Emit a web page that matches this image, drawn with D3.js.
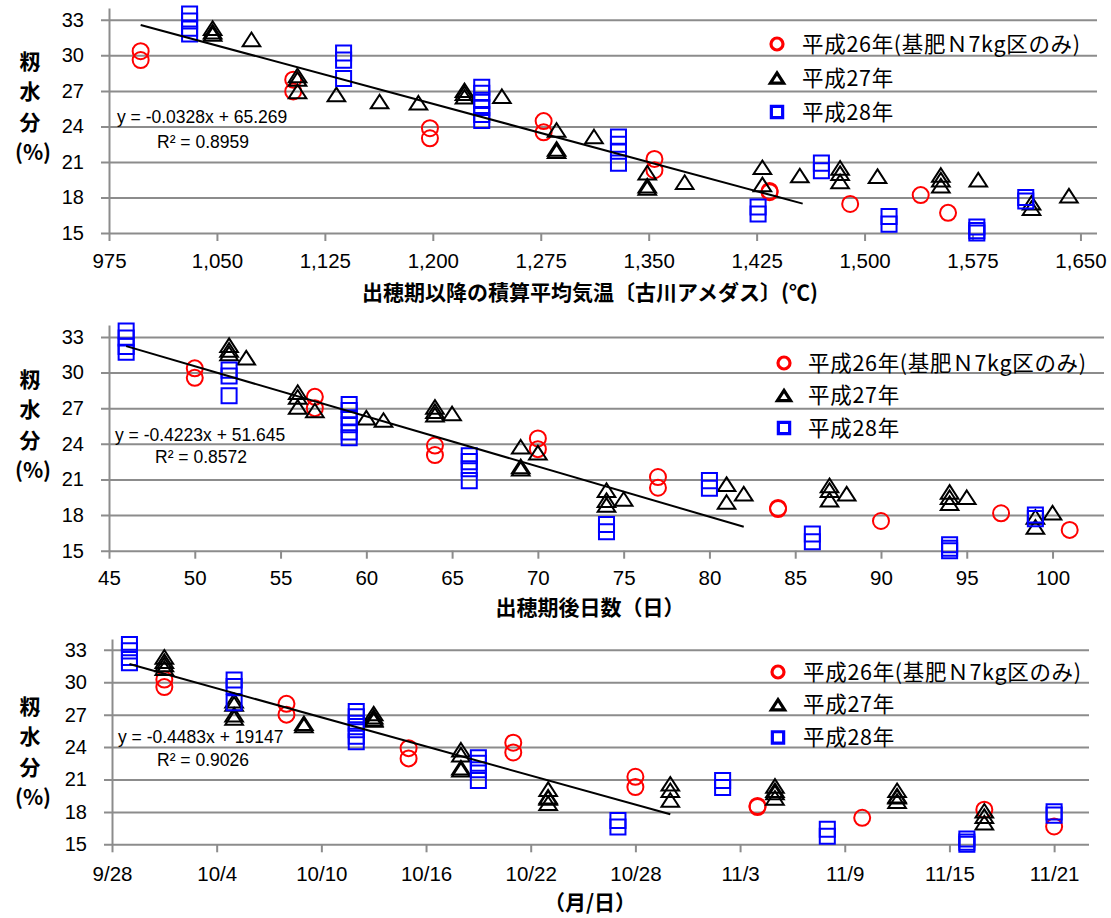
<!DOCTYPE html>
<html>
<head>
<meta charset="utf-8">
<title>籾水分</title>
<style>
body { margin: 0; background: #fff; }
text { font-family: 'Liberation Sans', Arial, sans-serif; fill: #000; }
.jp { font-family: 'Noto Sans CJK JP', sans-serif; }
</style>
<script src="https://d3js.org/d3.v7.min.js"></script>
</head>
<body>
<div id="container"></div>
<script>
// ******* Data *******
const yTicks = [15, 18, 21, 24, 27, 30, 33];
const legendLabels = ["平成26年(基肥Ｎ7kg区のみ)", "平成27年", "平成28年"];
const yTitleChars = ["籾", "水", "分", "(%)"];
const xTitles = ["出穂期以降の積算平均気温〔古川アメダス〕(℃)", "出穂期後日数（日）", "（月/日）"];

// panel 1: accumulated temperature
const xTicks1 = [975, 1050, 1125, 1200, 1275, 1350, 1425, 1500, 1575, 1650];
const temp26 = [[997,30.35],[997,29.6],[1103,27.95],[1103,26.95],[1198,23.85],[1198,23.0],[1277,24.45],[1277,23.5],
  [1354,21.25],[1354,20.3],[1434,18.55],[1434,18.45],[1490,17.45],[1539,18.2],[1558,16.7]];
const temp27 = [[1047,32.3],[1047,32.0],[1047,31.8],[1074,31.35],[1106,28.3],[1106,28.0],[1106,26.95],[1133,26.7],
  [1163,26.1],[1190,26.0],[1222,27.05],[1222,26.8],[1222,26.5],[1248,26.55],[1286,23.7],[1286,22.1],[1286,21.9],
  [1312,23.15],[1349,20.1],[1349,19.0],[1349,18.8],[1375,19.3],[1429,20.55],[1429,19.1],[1455,19.85],[1483,20.5],
  [1483,20.05],[1483,19.35],[1509,19.8],[1553,19.9],[1553,19.5],[1553,19.0],[1579,19.5],[1616,17.55],[1616,17.1],[1642,18.15]];
const temp28 = [[1031,33.5],[1031,32.9],[1031,32.3],[1031,31.8],[1138,30.2],[1138,29.6],[1138,28.05],[1234,27.3],
  [1234,26.8],[1234,26.2],[1234,25.6],[1234,25.0],[1234,24.5],[1329,23.1],[1329,22.5],[1329,21.9],[1329,20.9],
  [1426,17.2],[1426,16.6],[1470,20.9],[1470,20.25],[1517,16.4],[1517,15.75],[1578,15.5],[1578,15.2],[1578,15.0],
  [1612,18.0],[1612,17.7]];
const trendTemp = { from: 997, to: 1457, slope: -0.0328, intercept: 65.269 };

// panel 2: days after heading
const xTicks2 = [45, 50, 55, 60, 65, 70, 75, 80, 85, 90, 95, 100];
const days26 = [[50,30.35],[50,29.55],[57,27.95],[57,27.0],[64,23.85],[64,23.05],[70,24.45],[70,23.55],[77,21.2],
  [77,20.3],[84,18.6],[84,18.5],[90,17.5],[97,18.15],[101,16.75]];
const days27 = [[52,32.3],[52,31.9],[52,31.6],[53,31.25],[56,28.35],[56,27.95],[56,27.1],[57,26.8],[60,26.2],[61,26.0],
  [64,27.1],[64,26.75],[64,26.45],[65,26.55],[69,23.75],[69,22.1],[69,21.9],[70,23.25],[74,20.1],[74,19.25],[74,18.85],
  [75,19.35],[81,20.6],[81,19.1],[82,19.8],[87,20.5],[87,20.1],[87,19.3],[88,19.8],[94,19.95],[94,19.5],[94,19.0],
  [95,19.5],[99,17.85],[99,17.0],[100,18.2]];
const days28 = [[46,33.5],[46,32.9],[46,32.2],[46,31.7],[52,30.2],[52,29.7],[52,28.05],[59,27.3],[59,26.8],[59,26.2],
  [59,25.6],[59,25.0],[59,24.5],[66,23.0],[66,22.5],[66,21.9],[66,20.9],[74,17.2],[74,16.6],[80,20.9],[80,20.25],
  [86,16.4],[86,15.75],[94,15.5],[94,15.2],[94,15.0],[99,18.0],[99,17.7]];
const trendDays = { from: 46, to: 82, slope: -0.4223, intercept: 51.645 };

// panel 3: sampling date
const xTicks3 = ["9/28", "10/4", "10/10", "10/16", "10/22", "10/28", "11/3", "11/9", "11/15", "11/21"];
const date26 = [["10/1",30.25],["10/1",29.55],["10/8",28.0],["10/8",27.0],["10/15",23.9],["10/15",22.95],["10/21",24.4],
  ["10/21",23.5],["10/28",21.25],["10/28",20.3],["11/4",18.55],["11/4",18.45],["11/10",17.45],["11/17",18.2],["11/21",16.65]];
const date27 = [["10/1",32.35],["10/1",31.95],["10/1",31.65],["10/1",31.3],["10/5",28.3],["10/5",28.0],["10/5",27.0],
  ["10/5",26.7],["10/9",26.2],["10/9",26.0],["10/13",27.1],["10/13",26.8],["10/13",26.5],["10/13",26.6],["10/18",23.75],
  ["10/18",23.3],["10/18",22.1],["10/18",21.9],["10/23",20.1],["10/23",19.4],["10/23",19.3],["10/23",18.8],["10/30",20.6],
  ["10/30",20.0],["10/30",19.1],["11/5",20.4],["11/5",20.0],["11/5",19.8],["11/5",19.3],["11/12",20.0],["11/12",19.5],
  ["11/12",19.4],["11/12",19.0],["11/17",18.1],["11/17",17.6],["11/17",17.0]];
const date28 = [["9/29",33.5],["9/29",32.9],["9/29",32.3],["9/29",31.8],["10/5",30.2],["10/5",29.6],["10/5",28.1],
  ["10/12",27.3],["10/12",26.8],["10/12",26.2],["10/12",25.6],["10/12",25.0],["10/12",24.5],["10/19",23.0],["10/19",22.5],
  ["10/19",21.9],["10/19",20.9],["10/27",17.2],["10/27",16.6],["11/2",20.9],["11/2",20.25],["11/8",16.4],["11/8",15.75],
  ["11/16",15.5],["11/16",15.2],["11/16",15.0],["11/21",18.0],["11/21",17.7]];
const trendDate = { from: "9/29", to: "10/30", start: 31.68, slopePerDay: -0.4483 };

const equations = [["y = -0.0328x + 65.269", "R² = 0.8959"],
                   ["y = -0.4223x + 51.645", "R² = 0.8572"],
                   ["y = -0.4483x + 19147", "R² = 0.9026"]];

// ******* Helpers *******
const parseMD = s => d3.timeParse("%Y/%m/%d")("2016/" + s);
const dayMs = 864e5;
const gridColor = "#8c8c8c";
const colors = ["#ff0000", "#000000", "#0000ff"];
const shapes = ["circle", "triangle", "square"];

function trendPoints(t) {
  return [[t.from, t.intercept + t.slope * t.from], [t.to, t.intercept + t.slope * t.to]];
}
const d0 = parseMD(trendDate.from), d1 = parseMD(trendDate.to);
const trend3 = [[d0, trendDate.start], [d1, trendDate.start + trendDate.slopePerDay * (d1 - d0) / dayMs]];

// ******* Panels (layout) *******
const panels = [
  { top: 8, bottom: 233, left: 109, right: 1097,
    x: d3.scaleLinear().domain([975, 1661.5]), ticks: xTicks1, fmt: d3.format(","),
    series: [temp26, temp27, temp28], trend: trendPoints(trendTemp), eq: equations[0],
    eqPos: [117, 117, 157, 142], legend: [777, 44, 34, 802], yTitle: 61, xTitleY: 292, tickY: 261 },
  { top: 325, bottom: 550.7, left: 109, right: 1104,
    x: d3.scaleLinear().domain([45, 103]), ticks: xTicks2, fmt: d3.format("d"),
    series: [days26, days27, days28], trend: trendPoints(trendDays), eq: equations[1],
    eqPos: [115, 435, 155, 457], legend: [784, 363, 32.5, 808], yTitle: 379, xTitleY: 607, tickY: 578 },
  { top: 639, bottom: 844.3, left: 112, right: 1089,
    x: d3.scaleTime().domain([parseMD("9/28"), parseMD("11/23")]), ticks: xTicks3.map(parseMD),
    fmt: d3.timeFormat("%-m/%-d"), parse: true,
    series: [date26, date27, date28], trend: trend3, eq: equations[2],
    eqPos: [118, 737, 157, 760], legend: [778, 672, 32.7, 803], yTitle: 706, xTitleY: 902, tickY: 874 }
];

// ******* Create SVG *******
const svg = d3.select("#container").append("svg")
  .attr("width", 1111)
  .attr("height", 918);

function marker(sel, shape, color, size, sw) {
  if (shape === "circle") {
    sel.append("circle").attr("r", size * 0.5).attr("fill", "none")
      .attr("stroke", color).attr("stroke-width", sw);
  } else if (shape === "triangle") {
    const h = size * 0.85, w = size * 0.55;
    sel.append("path").attr("d", `M0,${-h / 2}L${w},${h / 2}L${-w},${h / 2}Z`)
      .attr("fill", "none").attr("stroke", color).attr("stroke-width", sw).attr("stroke-linejoin", "miter");
  } else {
    const s = size * 0.47;
    sel.append("path").attr("d", `M${-s},${-s}H${s}V${s}H${-s}Z`)
      .attr("fill", "none").attr("stroke", color).attr("stroke-width", sw);
  }
}

panels.forEach((p, pi) => {
  const g = svg.append("g");
  const x = p.x.range([p.left, p.right]);
  const y = d3.scaleLinear().domain([15, 34]).range([p.bottom, p.top]);
  const px = d => x(p.parse ? parseMD(d[0]) : d[0]);

  // gridlines (also the x axis line at 15)
  g.append("g")
    .attr("transform", `translate(${p.left},0)`)
    .call(d3.axisLeft(y).tickValues(yTicks).tickSize(-(p.right - p.left)).tickFormat(""))
    .call(s => s.select(".domain").remove())
    .selectAll("line").attr("x1", -8).attr("stroke", gridColor).attr("stroke-width", 2);

  // y axis + labels
  const ya = g.append("g")
    .attr("transform", `translate(${p.left},0)`)
    .call(d3.axisLeft(y).tickValues(yTicks).tickSize(0).tickSizeOuter(0).tickPadding(25));
  ya.select(".domain").attr("stroke", gridColor).attr("stroke-width", 2);
  ya.selectAll("text").style("font-size", "20px").attr("fill", "#000");

  // x axis ticks + labels
  const xa = g.append("g")
    .attr("transform", `translate(0,${p.bottom})`)
    .call(d3.axisBottom(x).tickValues(p.ticks).tickFormat(p.fmt).tickSize(8).tickSizeOuter(0));
  xa.select(".domain").remove();
  xa.selectAll("line").attr("stroke", gridColor).attr("stroke-width", 2);
  xa.selectAll("text")
    .attr("y", p.tickY - p.bottom).attr("dy", "0.36em")
    .style("font-size", "20.5px").attr("fill", "#000");

  // points
  p.series.forEach((data, i) => {
    g.append("g").selectAll("g")
      .data(data)
      .enter()
      .append("g")
      .attr("transform", d => `translate(${px(d)},${y(d[1])})`)
      .each(function() { marker(d3.select(this), shapes[i], colors[i], 16, 2); });
  });

  // trend line
  g.append("path")
    .datum(p.trend)
    .attr("d", d3.line().x(d => x(d[0])).y(d => y(d[1])))
    .attr("fill", "none").attr("stroke", "#000").attr("stroke-width", 2);

  // equation
  g.append("text").attr("x", p.eqPos[0]).attr("y", p.eqPos[1]).attr("dy", "0.35em")
    .style("font-size", "17.5px").text(p.eq[0]);
  g.append("text").attr("x", p.eqPos[2]).attr("y", p.eqPos[3]).attr("dy", "0.35em")
    .style("font-size", "17.5px").text(p.eq[1]);

  // legend
  legendLabels.forEach((lab, i) => {
    const ly = p.legend[1] + i * p.legend[2];
    const m = g.append("g").attr("transform", `translate(${p.legend[0]},${ly})`);
    marker(m, shapes[i], colors[i], 12, 3.2);
    g.append("text").attr("class", "jp")
      .attr("x", p.legend[3]).attr("y", ly).attr("dy", "0.36em")
      .style("font-size", "21.5px").style("letter-spacing", "0.7px").text(lab);
  });

  // y title (stacked)
  yTitleChars.forEach((c, i) => {
    g.append("text").attr("class", "jp")
      .attr("x", i === 3 ? 33 : 30).attr("y", p.yTitle + i * 30.5).attr("dy", "0.36em")
      .attr("text-anchor", "middle")
      .style("font-size", "21px").style("font-weight", "bold").text(c);
  });

  // x title
  g.append("text").attr("class", "jp")
    .attr("x", 590).attr("y", p.xTitleY).attr("dy", "0.36em")
    .attr("text-anchor", "middle")
    .style("font-size", "21px").style("font-weight", "bold")
    .text(xTitles[pi]);
});
</script>
</body>
</html>
